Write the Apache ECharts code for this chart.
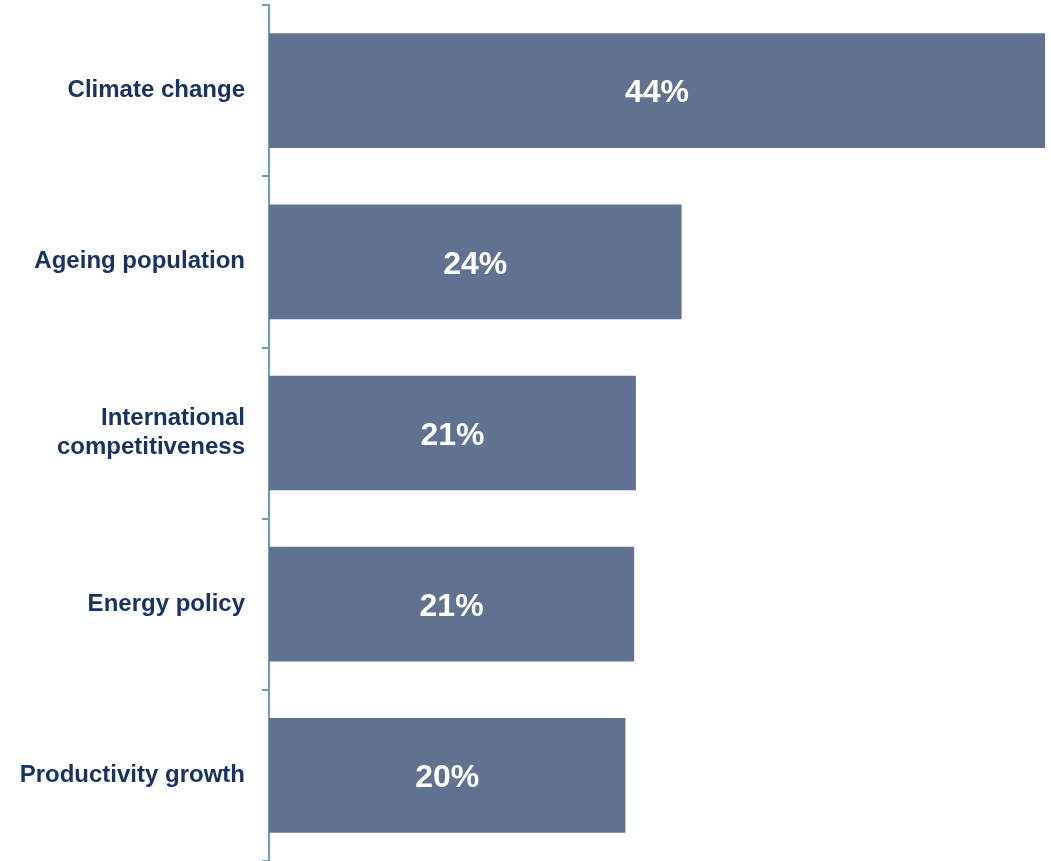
<!DOCTYPE html>
<html>
<head>
<meta charset="utf-8">
<style>
  html, body { margin: 0; padding: 0; background: #ffffff; }
  #chart { width: 1051px; height: 861px; }
</style>
<script src="https://cdn.jsdelivr.net/npm/echarts@6/dist/echarts.min.js"></script>
</head>
<body>
<div id="chart"></div>
<script>
// Share of respondents naming each challenge (%)
const categories = [
  'Climate change',
  'Ageing population',
  'International\ncompetitiveness',
  'Energy policy',
  'Productivity growth'
];
const shares = [44.2, 23.5, 20.9, 20.8, 20.3];

const chart = echarts.init(document.getElementById('chart'), null, { renderer: 'canvas' });

chart.setOption({
  animation: false,
  backgroundColor: '#ffffff',
  grid: { left: 269, right: 6, top: 5, bottom: 0, containLabel: false },
  xAxis: {
    type: 'value',
    min: 0,
    max: 44.2,
    show: false,
    splitLine: { show: false }
  },
  yAxis: {
    type: 'category',
    data: categories,
    inverse: true,
    boundaryGap: true,
    axisLine: { show: true, lineStyle: { color: '#6c9db3', width: 2 } },
    axisTick: { show: true, length: 7, lineStyle: { color: '#6c9db3', width: 2 } },
    axisLabel: {
      margin: 24,
      align: 'right',
      color: '#1a3262',
      fontFamily: '"Liberation Sans", Arial, sans-serif',
      fontWeight: 'bold',
      fontSize: 24,
      lineHeight: 29
    }
  },
  series: [{
    type: 'bar',
    data: shares,
    barWidth: '67%',
    itemStyle: { color: '#60728f' },
    label: {
      show: true,
      position: 'inside',
      offset: [0, 3],
      color: '#ffffff',
      fontFamily: '"Liberation Sans", Arial, sans-serif',
      fontWeight: 'bold',
      fontSize: 32,
      formatter: p => Math.round(p.value) + '%'
    }
  }]
});
</script>
</body>
</html>
